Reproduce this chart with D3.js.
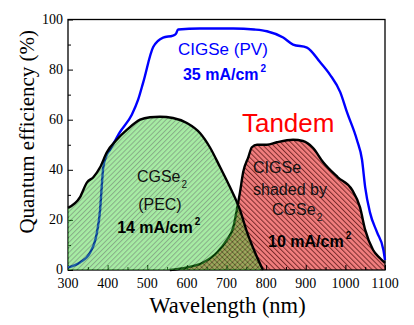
<!DOCTYPE html>
<html>
<head>
<meta charset="utf-8">
<script src="https://cdn.jsdelivr.net/npm/d3@7"></script>
<style>
  body { margin: 0; background: #fff; }
  svg { display: block; }
</style>
</head>
<body>
<div id="graph"></div>
<script>
// wavelength (nm) / quantum efficiency (%)
let pvWl  = [300, 330, 356, 373, 381, 385, 389, 398, 406, 431, 461, 477, 490, 515, 540, 565, 572, 578, 633, 717, 770, 802, 843, 868, 903, 936, 961, 987, 1004, 1029, 1042, 1050, 1062, 1080, 1096, 1100]
let pvQE  = [1, 3, 7, 15, 24, 33, 41, 46, 48, 55, 62, 68, 75, 89, 92.8, 93.6, 94.2, 96, 96.4, 96.4, 96, 95.3, 92.8, 90, 88.8, 83, 78, 71, 63, 52, 44, 33, 23, 15, 8, 4]

let pecWl = [300, 330, 348, 364, 381, 398, 423, 449, 482, 507, 532, 565, 600, 633, 658, 684, 709, 734, 752, 772, 792]
let pecQE = [24.8, 29, 35, 37, 41, 47, 52, 56, 60, 61, 61.2, 60.7, 58.7, 54.7, 49, 41, 33, 24, 15, 7, 0]

let shWl  = [557, 600, 641, 676, 701, 717, 726, 734, 742, 755, 764, 777, 802, 827, 868, 893, 918, 944, 981, 1017, 1037, 1050, 1070, 1087, 1100]
let shQE  = [0, 1, 3, 7, 12, 17, 24, 31, 39, 45, 49, 50, 50, 51, 52, 51.5, 48.8, 43, 37, 32, 25, 16, 8, 4.8, 2.8]

let xTicks = [300, 400, 500, 600, 700, 800, 900, 1000, 1100]
let yTicks = [0, 20, 40, 60, 80, 100]

// annotations placed in data units
let labels = [
    { text: 'CIGSe (PV)', x: 691, y: 85.8, anchor: 'middle', color: '#0000ff', bold: false, size: 17 },
    { text: '35 mA/cm', sup: '2', x: 590, y: 75.8, anchor: 'start', color: '#0000ff', bold: true, size: 16 },
    { text: 'Tandem', x: 739, y: 55, anchor: 'start', color: '#ff0000', bold: false, size: 26 },
    { text: 'CGSe', sub: '2', x: 474, y: 35, anchor: 'start', color: '#111', bold: false, size: 16 },
    { text: '(PEC)', x: 532, y: 24, anchor: 'middle', color: '#111', bold: false, size: 16 },
    { text: '14 mA/cm', sup: '2', x: 424, y: 14.8, anchor: 'start', color: '#000', bold: true, size: 16 },
    { text: 'CIGSe', x: 767, y: 38.7, anchor: 'start', color: '#111', bold: false, size: 16 },
    { text: 'shaded by', x: 767, y: 30, anchor: 'start', color: '#111', bold: false, size: 16 },
    { text: 'CGSe', sub: '2', x: 815, y: 22, anchor: 'start', color: '#111', bold: false, size: 16 },
    { text: '10 mA/cm', sup: '2', x: 805, y: 9.2, anchor: 'start', color: '#000', bold: true, size: 16 }
]

let width = 414, height = 325
let margin = { top: 19.5, right: 29, bottom: 55, left: 68 }

let svg = d3.select('#graph')
    .append('svg')
    .attr('width', width)
    .attr('height', height)

let x = d3.scaleLinear().domain([300, 1100]).range([margin.left, width - margin.right])
let y = d3.scaleLinear().domain([0, 100]).range([height - margin.bottom, margin.top])

let pv  = pvWl.map((w, i) => [w, pvQE[i]])
let pec = pecWl.map((w, i) => [w, pecQE[i]])
let sh  = shWl.map((w, i) => [w, shQE[i]])

// hatch patterns
let defs = svg.append('defs')
function hatch(id, angle, bg, lineColor) {
    let p = defs.append('pattern')
        .attr('id', id)
        .attr('patternUnits', 'userSpaceOnUse')
        .attr('width', 3.6).attr('height', 3.6)
        .attr('patternTransform', 'rotate(' + angle + ')')
    p.append('rect').attr('width', 3.6).attr('height', 3.6).attr('fill', bg)
    p.append('line').attr('x1', 0.5).attr('y1', 0).attr('x2', 0.5).attr('y2', 3.6)
        .attr('stroke', lineColor).attr('stroke-width', 1)
}
hatch('hatchRed', -45, '#f27e7e', '#7a2c2c')
hatch('hatchGreen', 45, 'rgb(66,214,60)', '#005000')

let area = d3.area()
    .x(d => x(d[0]))
    .y0(y(0))
    .y1(d => y(d[1]))
    .curve(d3.curveMonotoneX)

let line = d3.line()
    .x(d => x(d[0]))
    .y(d => y(d[1]))
    .curve(d3.curveMonotoneX)

// CIGSe shaded by CGSe2
svg.append('path')
    .attr('d', area(sh))
    .attr('fill', 'url(#hatchRed)')
svg.append('path')
    .attr('d', line(sh))
    .attr('fill', 'none')
    .attr('stroke', '#000')
    .attr('stroke-width', 2.4)

// axes
let xAxis = svg.append('g')
    .attr('transform', 'translate(0,' + y(0) + ')')
    .call(d3.axisBottom(x).tickValues(d3.range(300, 1101, 50)).tickSize(0).tickFormat(''))
let yAxis = svg.append('g')
    .attr('transform', 'translate(' + x(300) + ',0)')
    .call(d3.axisLeft(y).tickValues(d3.range(0, 101, 10)).tickSize(0).tickFormat(''))
svg.selectAll('.domain').remove()

xAxis.selectAll('.tick line')
    .attr('y2', d => xTicks.includes(d) ? -5 : -3)
    .attr('stroke', '#000').attr('stroke-width', 1)
yAxis.selectAll('.tick line')
    .attr('x2', d => yTicks.includes(d) ? 5 : 3)
    .attr('stroke', '#000').attr('stroke-width', 1)

svg.append('rect')
    .attr('x', x(300)).attr('y', y(100))
    .attr('width', x(1100) - x(300)).attr('height', y(0) - y(100))
    .attr('fill', 'none').attr('stroke', '#000').attr('stroke-width', 1.3)

// CIGSe (PV)
svg.append('path')
    .attr('d', line(pv))
    .attr('fill', 'none')
    .attr('stroke', '#0000ff')
    .attr('stroke-width', 2.4)

// CGSe2 (PEC), translucent over everything below
svg.append('path')
    .attr('d', area(pec))
    .attr('fill', 'url(#hatchGreen)')
    .attr('opacity', 0.47)
svg.append('path')
    .attr('d', line(pec))
    .attr('fill', 'none')
    .attr('stroke', '#000')
    .attr('stroke-width', 2.4)

// tick labels
svg.append('g').selectAll('text')
    .data(xTicks)
    .join('text')
    .attr('x', d => x(d))
    .attr('y', y(0) + 18)
    .attr('text-anchor', 'middle')
    .attr('font-family', 'Liberation Serif, serif')
    .attr('font-size', 14)
    .text(d => d)

svg.append('g').selectAll('text')
    .data(yTicks)
    .join('text')
    .attr('x', x(300) - 5)
    .attr('y', d => y(d) + 4)
    .attr('text-anchor', 'end')
    .attr('font-family', 'Liberation Serif, serif')
    .attr('font-size', 14)
    .text(d => d)

// axis titles
svg.append('text')
    .attr('x', (x(300) + x(1100)) / 2 + 1)
    .attr('y', 313)
    .attr('text-anchor', 'middle')
    .attr('font-family', 'Liberation Serif, serif')
    .attr('font-size', 22.5)
    .text('Wavelength (nm)')

svg.append('text')
    .attr('transform', 'translate(34,' + ((y(0) + y(100)) / 2 - 13) + ') rotate(-90)')
    .attr('text-anchor', 'middle')
    .attr('font-family', 'Liberation Serif, serif')
    .attr('font-size', 21)
    .text('Quantum efficiency (%)')

// annotations
labels.forEach(l => {
    let t = svg.append('text')
        .attr('x', x(l.x))
        .attr('y', y(l.y))
        .attr('text-anchor', l.anchor)
        .attr('font-family', 'Liberation Sans, Arial, sans-serif')
        .attr('font-size', l.size)
        .attr('font-weight', l.bold ? 'bold' : 'normal')
        .attr('fill', l.color)
    t.append('tspan').text(l.text)
    if (l.sup) t.append('tspan').attr('dy', -8).attr('dx', 2).attr('font-size', 10).text(l.sup)
    if (l.sub) t.append('tspan').attr('dy', 6).attr('dx', 1).attr('font-size', 10).attr('font-weight', 'normal').text(l.sub)
})
</script>
</body>
</html>
